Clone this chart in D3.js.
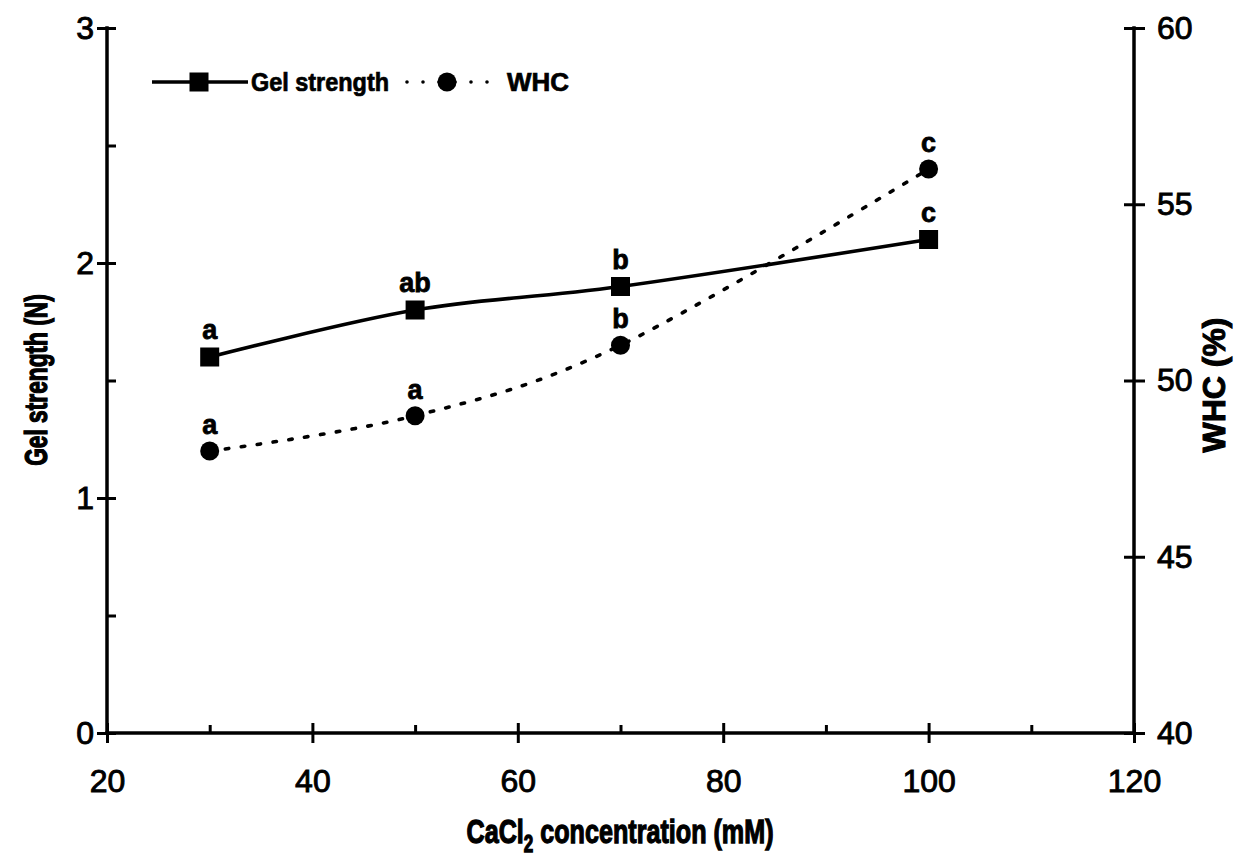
<!DOCTYPE html>
<html>
<head>
<meta charset="utf-8">
<script src="https://cdn.jsdelivr.net/npm/d3@7"></script>
<style>
  html, body { margin: 0; padding: 0; background: #fff; }
  svg { display: block; }
  text { font-family: "Liberation Sans", Arial, sans-serif; fill: #000; }
</style>
</head>
<body>
<svg id="chart" width="1242" height="864"></svg>
<script>
// CaCl2 concentration (mM)
const concentrations = [30, 50, 70, 100];
// Gel strength (N), left axis
const gelStrength = [1.6, 1.8, 1.9, 2.1];
// Water holding capacity (%), right axis
const whc = [48, 49, 51, 56];
// Significance letters
const gelLetters = ["a", "ab", "b", "c"];
const whcLetters = ["a", "a", "b", "c"];

const xTicks = [20, 40, 60, 80, 100, 120];
const xMinorTicks = [30, 50, 70, 90, 110];
const leftTicks = [0, 1, 2, 3];
const leftMinorTicks = [0.5, 1.5, 2.5];
const rightTicks = [40, 45, 50, 55, 60];

const svg = d3.select("#chart");
const plot = { left: 107, right: 1134, top: 28, bottom: 733 };

const x = d3.scaleLinear().domain([20, 120]).range([plot.left, plot.right]);
const yL = d3.scaleLinear().domain([0, 3]).range([plot.bottom, plot.top]);
const yR = d3.scaleLinear().domain([40, 60]).range([plot.bottom, plot.top]);

const tickFont = 32;

function styleAxis(g) {
  g.select(".domain").remove();
  g.selectAll(".tick line").attr("stroke", "#000").attr("stroke-width", 3);
  g.selectAll(".tick text")
    .attr("font-size", tickFont)
    .attr("font-family", "'Liberation Sans', Arial, sans-serif")
    .attr("fill", "#000")
    .attr("stroke", "#000").attr("stroke-width", 0.9);
}

// X axis: crossing major ticks, inward minor ticks
svg.append("g")
  .attr("transform", `translate(0,${plot.bottom})`)
  .call(d3.axisBottom(x).tickValues(xTicks).tickSize(10).tickPadding(26).tickFormat(d3.format("d")))
  .call(styleAxis);
svg.append("g")
  .attr("transform", `translate(0,${plot.bottom})`)
  .call(d3.axisBottom(x).tickValues(xTicks).tickSize(-10).tickFormat(""))
  .call(styleAxis);
svg.append("g")
  .attr("transform", `translate(0,${plot.bottom})`)
  .call(d3.axisBottom(x).tickValues(xMinorTicks).tickSize(-8).tickFormat(""))
  .call(styleAxis);

// Left axis
svg.append("g")
  .attr("transform", `translate(${plot.left},0)`)
  .call(d3.axisLeft(yL).tickValues(leftTicks).tickSize(10).tickPadding(3).tickFormat(d3.format("d")))
  .call(styleAxis);
svg.append("g")
  .attr("transform", `translate(${plot.left},0)`)
  .call(d3.axisLeft(yL).tickValues(leftTicks.concat(leftMinorTicks)).tickSize(-9).tickFormat(""))
  .call(styleAxis);

// Right axis
svg.append("g")
  .attr("transform", `translate(${plot.right},0)`)
  .call(d3.axisRight(yR).tickValues(rightTicks).tickSize(11).tickPadding(12).tickFormat(d3.format("d")))
  .call(styleAxis);
svg.append("g")
  .attr("transform", `translate(${plot.right},0)`)
  .call(d3.axisRight(yR).tickValues(rightTicks).tickSize(-10).tickFormat(""))
  .call(styleAxis);

// Axis lines
const axisLines = svg.append("g").attr("stroke", "#000").attr("stroke-width", 3.5).attr("stroke-linecap", "square");
axisLines.append("line").attr("x1", plot.left).attr("x2", plot.right).attr("y1", plot.bottom).attr("y2", plot.bottom);
axisLines.append("line").attr("x1", plot.left).attr("x2", plot.left).attr("y1", plot.top).attr("y2", plot.bottom);
axisLines.append("line").attr("x1", plot.right).attr("x2", plot.right).attr("y1", plot.top).attr("y2", plot.bottom);

// Axis titles (heavy, condensed bold)
svg.append("text")
  .attr("transform", `translate(47,380) rotate(-90) scale(0.71,1)`)
  .attr("text-anchor", "middle")
  .attr("font-size", 32).attr("font-weight", "bold")
  .attr("stroke", "#000").attr("stroke-width", 1.3)
  .text("Gel strength (N)");

svg.append("text")
  .attr("transform", `translate(1225,385) rotate(-90)`)
  .attr("text-anchor", "middle")
  .attr("font-size", 31).attr("font-weight", "bold")
  .attr("stroke", "#000").attr("stroke-width", 1)
  .attr("textLength", 135).attr("lengthAdjust", "spacingAndGlyphs")
  .text("WHC (%)");

const xTitle = svg.append("text")
  .attr("transform", "translate(620,843) scale(0.74,1)")
  .attr("text-anchor", "middle")
  .attr("font-size", 34).attr("font-weight", "bold")
  .attr("stroke", "#000").attr("stroke-width", 1.3);
xTitle.append("tspan").text("CaCl");
xTitle.append("tspan").attr("font-size", 23).attr("dy", 9).text("2");
xTitle.append("tspan").attr("dy", -9).text(" concentration (mM)");

// Series lines (smoothed)
const curve = d3.curveCardinal.tension(0);
const gelPts = concentrations.map((c, i) => [x(c), yL(gelStrength[i])]);
const whcPts = concentrations.map((c, i) => [x(c), yR(whc[i])]);
const lineGen = d3.line().curve(curve);

svg.append("path")
  .attr("d", lineGen(whcPts))
  .attr("fill", "none").attr("stroke", "#000")
  .attr("stroke-width", 3.6).attr("stroke-linecap", "round")
  .attr("stroke-dasharray", "3.5,12.5");

svg.append("path")
  .attr("d", lineGen(gelPts))
  .attr("fill", "none").attr("stroke", "#000")
  .attr("stroke-width", 3.6);

// Markers
const sq = 19;
svg.append("g").selectAll("rect").data(gelPts).join("rect")
  .attr("x", d => d[0] - sq / 2).attr("y", d => d[1] - sq / 2)
  .attr("width", sq).attr("height", sq).attr("fill", "#000");

svg.append("g").selectAll("circle").data(whcPts).join("circle")
  .attr("cx", d => d[0]).attr("cy", d => d[1]).attr("r", 9.5).attr("fill", "#000");

// Significance letters
const letterFont = 27;
svg.append("g").selectAll("text").data(gelPts).join("text")
  .attr("x", d => d[0]).attr("y", d => d[1] - 18)
  .attr("text-anchor", "middle")
  .attr("font-size", letterFont).attr("font-weight", "bold")
  .attr("stroke", "#000").attr("stroke-width", 0.8)
  .text((d, i) => gelLetters[i]);

svg.append("g").selectAll("text").data(whcPts).join("text")
  .attr("x", d => d[0]).attr("y", d => d[1] - 17)
  .attr("text-anchor", "middle")
  .attr("font-size", letterFont).attr("font-weight", "bold")
  .attr("stroke", "#000").attr("stroke-width", 0.8)
  .text((d, i) => whcLetters[i]);

// Legend
const legY = 82;
const legend = svg.append("g");
legend.append("line").attr("x1", 152).attr("x2", 248).attr("y1", legY).attr("y2", legY)
  .attr("stroke", "#000").attr("stroke-width", 3.6);
legend.append("rect").attr("x", 199 - sq / 2).attr("y", legY - sq / 2).attr("width", sq).attr("height", sq).attr("fill", "#000");
legend.append("text").attr("x", 251).attr("y", legY + 9)
  .attr("font-size", 25).attr("font-weight", "bold")
  .attr("stroke", "#000").attr("stroke-width", 0.7)
  .attr("textLength", 138).attr("lengthAdjust", "spacingAndGlyphs")
  .text("Gel strength");
legend.append("line").attr("x1", 407).attr("x2", 503).attr("y1", legY).attr("y2", legY)
  .attr("stroke", "#000").attr("stroke-width", 3.6).attr("stroke-linecap", "round")
  .attr("stroke-dasharray", "0,16");
legend.append("circle").attr("cx", 447).attr("cy", legY).attr("r", 9.5).attr("fill", "#000");
legend.append("text").attr("x", 507).attr("y", legY + 9)
  .attr("font-size", 25).attr("font-weight", "bold")
  .attr("stroke", "#000").attr("stroke-width", 0.7)
  .attr("textLength", 62).attr("lengthAdjust", "spacingAndGlyphs")
  .text("WHC");
</script>
</body>
</html>
